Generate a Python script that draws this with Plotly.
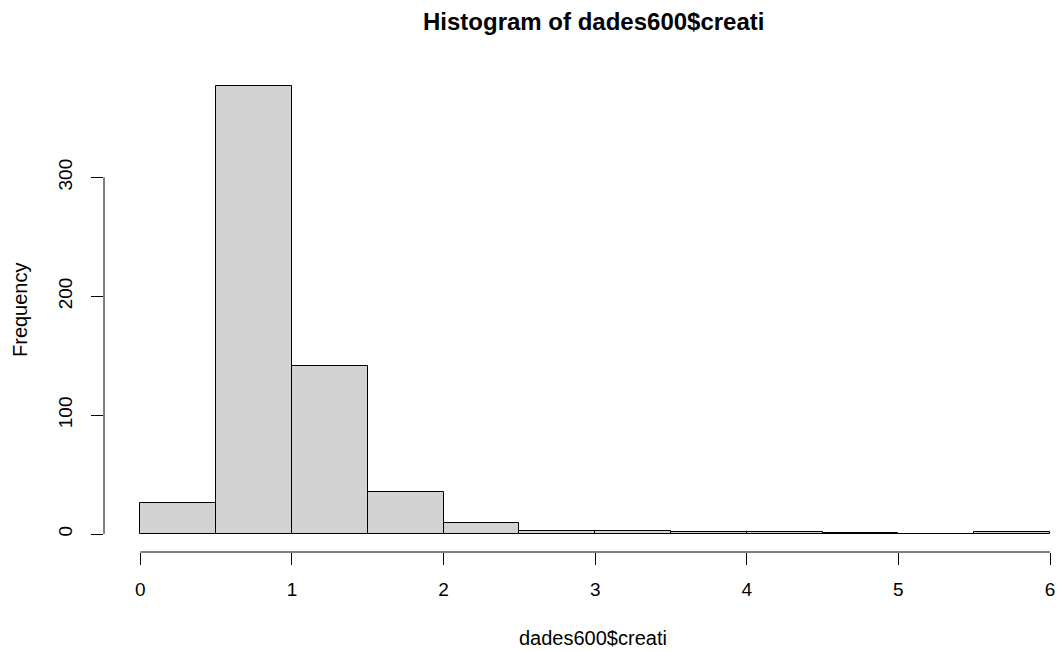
import plotly.graph_objects as go

# Histogram data
breaks = [0.0, 0.5, 1.0, 1.5, 2.0, 2.5, 3.0, 3.5, 4.0, 4.5, 5.0, 5.5, 6.0]
counts = [26, 377, 141, 35, 9, 3, 3, 2, 2, 1, 0, 2]
x_ticks = [0, 1, 2, 3, 4, 5, 6]
y_ticks = [0, 100, 200, 300]

title_text = "Histogram of dades600$creati"
x_title = "dades600$creati"
y_title = "Frequency"

mids = [(breaks[i] + breaks[i + 1]) / 2 for i in range(len(counts))]
widths = [breaks[i + 1] - breaks[i] for i in range(len(counts))]

FONT = "Liberation Sans, Arial, sans-serif"

fig = go.Figure()
fig.add_trace(go.Bar(
    x=mids, y=counts, width=widths,
    marker=dict(color="#D3D3D3", line=dict(color="#000000", width=1)),
    hoverinfo="x+y",
))

W, H = 1058, 651
L, R, T, B = 104, 0, 68, 99
plot_h = H - T - B
plot_w = W - L - R

ymax = max(counts)
yr = [-0.04 * ymax, ymax * 1.04]
xr = [-0.04 * 6, 6 + (W - 1050) / 151.67]

fig.update_layout(
    width=W, height=H,
    margin=dict(l=L, r=R, t=T, b=B, pad=0),
    paper_bgcolor="white", plot_bgcolor="white",
    showlegend=False,
    bargap=0,
    font=dict(family=FONT, size=19, color="#000000"),
    xaxis=dict(
        range=xr, showline=False, showgrid=False, zeroline=False,
        tickmode="array", tickvals=x_ticks, ticktext=[str(v) for v in x_ticks],
        ticks="outside", ticklen=12, tickwidth=1, tickcolor="#000000",
        tickfont=dict(family=FONT, size=19, color="#000000"),
        ticklabelstandoff=8,
    ),
    yaxis=dict(
        range=yr, showline=False, showgrid=False, zeroline=False,
        tickmode="array", tickvals=y_ticks, ticktext=[str(v) for v in y_ticks],
        ticks="outside", ticklen=12, tickwidth=1, tickcolor="#000000",
        tickangle=-90,
        tickfont=dict(family=FONT, size=19, color="#000000"),
        ticklabelstandoff=11,
    ),
    shapes=[
        dict(type="line", xref="x", yref="paper", x0=x_ticks[0], x1=x_ticks[-1],
             y0=0, y1=0, line=dict(color="#000000", width=1)),
        dict(type="line", xref="paper", yref="y", x0=0, x1=0,
             y0=y_ticks[0], y1=y_ticks[-1], line=dict(color="#000000", width=1)),
    ],
    annotations=[
        dict(text="<b>" + title_text + "</b>", xref="paper", yref="paper",
             x=(593 - L) / plot_w, y=1 + (T - 21) / plot_h,
             xanchor="center", yanchor="middle", showarrow=False,
             font=dict(family=FONT, size=24, color="#000000")),
        dict(text=x_title, xref="paper", yref="paper",
             x=(593 - L) / plot_w, y=-(638 - (H - B)) / plot_h,
             xanchor="center", yanchor="middle", showarrow=False,
             font=dict(family=FONT, size=20, color="#000000")),
        dict(text=y_title, xref="paper", yref="paper",
             x=(20 - L) / plot_w, y=0.5, textangle=-90,
             xanchor="center", yanchor="middle", showarrow=False,
             font=dict(family=FONT, size=20, color="#000000")),
    ],
)

fig.write_html("out.html")
